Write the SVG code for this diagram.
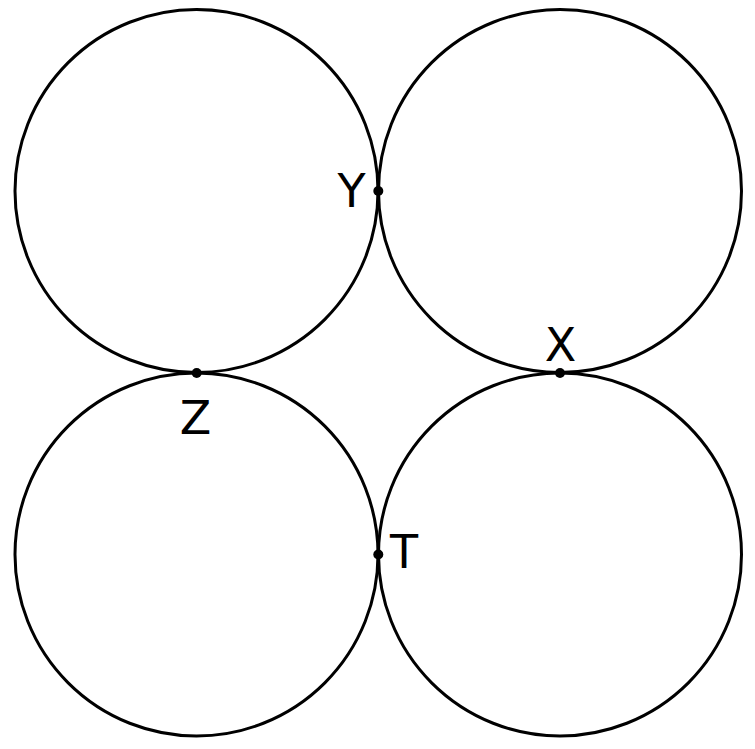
<svg xmlns="http://www.w3.org/2000/svg" width="755" height="749" viewBox="0 0 755 749">
<style>
.c{fill:none;stroke:#000;stroke-width:3}
.p{fill:#000}
.t{font-family:"DejaVu Sans",sans-serif;font-size:46px;fill:#000;text-anchor:middle}
</style>
<rect width="755" height="749" fill="#fff"/>
<g id="circles">
<circle id="c1" class="c" cx="196.5" cy="191" r="181.5"/>
<circle id="c2" class="c" cx="560" cy="191" r="181.5"/>
<circle id="c3" class="c" cx="196.5" cy="554.5" r="181.5"/>
<circle id="c4" class="c" cx="560" cy="554.5" r="181.5"/>
</g>
<g id="Y"><circle class="p" cx="378.3" cy="191" r="5"/><text class="t" x="351.5" y="207">Y</text></g>
<g id="Z"><circle class="p" cx="196.7" cy="373" r="5"/><text class="t" x="195.5" y="434">Z</text></g>
<g id="X"><circle class="p" cx="560" cy="373" r="5"/><text class="t" x="560.5" y="361">X</text></g>
<g id="T"><circle class="p" cx="378.3" cy="554.5" r="5"/><text class="t" x="404" y="567.5">T</text></g>
</svg>
